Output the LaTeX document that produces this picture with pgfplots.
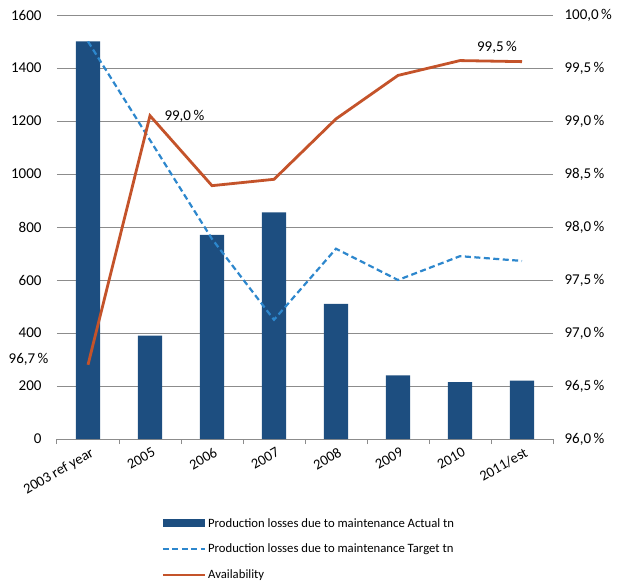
\documentclass[border=0pt]{standalone}
\usepackage{pgfplots}
\pgfplotsset{compat=1.18}
\usepackage{fontspec}
\setmainfont{Carlito}
\definecolor{barblue}{RGB}{29,78,128}
\definecolor{tgtblue}{RGB}{45,135,205}
\definecolor{avorange}{RGB}{196,83,42}
\definecolor{gridgray}{RGB}{140,140,140}
\pgfplotsset{
 linelegend/.style={legend image code/.code={\draw[##1] (0pt,0pt) -- (42pt,0pt);}},
 barlegend/.style={legend image code/.code={\fill[barblue] (0pt,-4pt) rectangle (42pt,4pt);}},
 common/.style={
  scale only axis, width=496pt, height=424pt,
  xmin=-0.5, xmax=7.5,
  /pgf/number format/assume math mode=true,
  /pgf/number format/set thousands separator={},
  tick label style={font=\fontsize{15}{18}\selectfont, text=black},
 }
}
\begin{document}
\begin{tikzpicture}
\begin{axis}[common, name=a,
  ymin=0, ymax=1600, ytick={0,200,400,600,800,1000,1200,1400,1600},
  axis y line*=left, axis x line*=bottom,
  y axis line style={draw=none},
  x axis line style={-, gridgray, line width=1pt},
  ymajorgrids, major grid style={gridgray, line width=0.8pt},
  ytick style={draw=none},
  yticklabel style={xshift=-7pt},
  xtick={-0.5,0.5,...,7.5},
  x tick label as interval,
  xticklabels={2003 ref year,2005,2006,2007,2008,2009,2010,2011/est},
  xticklabel style={font=\fontsize{14.5}{17}\selectfont, rotate=30, anchor=north east, inner sep=0pt, yshift=-3pt},
  tick align=outside, major tick length=5pt,
  xtick style={draw=gridgray, line width=1pt},
  legend style={at={(0.206,-0.177)}, anchor=north west, draw=none, fill=none,
    font=\fontsize{12.7}{15}\selectfont, row sep=11.5pt, inner sep=2pt},
  legend cell align=left,
]
\addplot[ybar, bar width=0.39, fill=barblue, draw=none, barlegend]
  coordinates {(0,1500) (1,390) (2,770) (3,855) (4,510) (5,240) (6,215) (7,220)};
\addlegendentry{Production losses due to maintenance Actual tn}
\addplot[tgtblue, line width=2.2pt, dash pattern=on 6pt off 3.5pt, linelegend]
  coordinates {(0,1500) (1,1128) (2,755) (3,450) (4,718) (5,600) (6,690) (7,672)};
\addlegendentry{Production losses due to maintenance Target tn}
\addlegendimage{avorange, line width=2.8pt, linelegend}
\addlegendentry{Availability}
\end{axis}
\begin{axis}[common, clip=false,
  ymin=96, ymax=100, ytick={96,96.5,97,97.5,98,98.5,99,99.5,100},
  yticklabels={{96,0\,\%},{96,5\,\%},{97,0\,\%},{97,5\,\%},{98,0\,\%},{98,5\,\%},{99,0\,\%},{99,5\,\%},{100,0\,\%}},
  axis y line*=right, axis x line=none,
  y axis line style={draw=none},
  ytick style={draw=none},
  yticklabel style={xshift=8pt},
]
\addplot[avorange, line width=2.8pt]
  coordinates {(0,96.70) (1,99.05) (2,98.39) (3,98.45) (4,99.02) (5,99.43) (6,99.57) (7,99.56)};
\node[font=\fontsize{15}{18}\selectfont, anchor=west] at (axis cs:1,99.05) [xshift=11pt, yshift=-1pt] {99,0\,\%};
\node[font=\fontsize{15}{18}\selectfont] at (axis cs:6,99.57) [xshift=37pt, yshift=13pt] {99,5\,\%};
\node[font=\fontsize{15}{18}\selectfont, anchor=east] at (axis cs:0,96.70) [xshift=-36pt, yshift=5pt] {96,7\,\%};
\end{axis}
\path ([xshift=-57pt,yshift=15pt]a.north west) rectangle ([xshift=66pt,yshift=-144pt]a.south east);
\end{tikzpicture}
\end{document}
